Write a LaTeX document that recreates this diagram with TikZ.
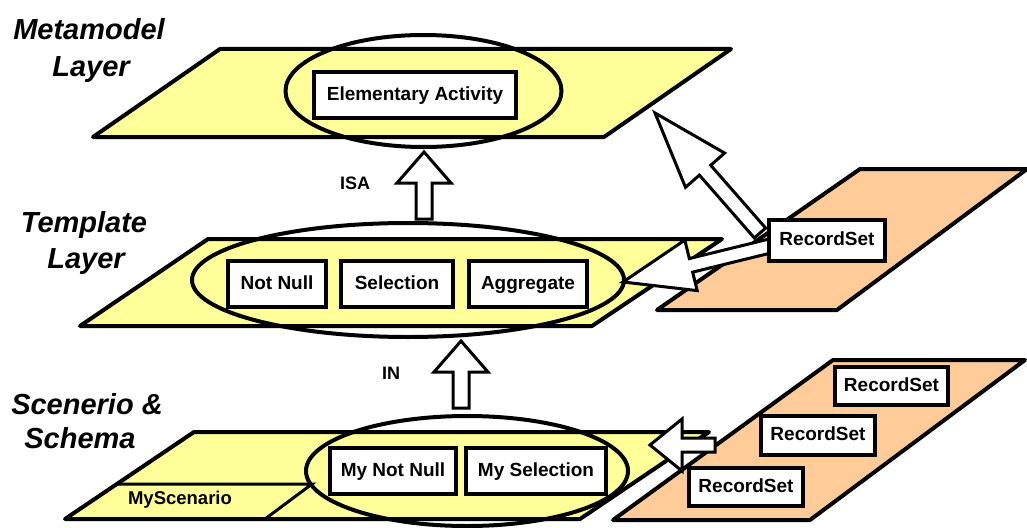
\documentclass[tikz,border=0pt]{standalone}
\usepackage{fontspec}
\setmainfont{Liberation Sans}
\usetikzlibrary{calc,shapes.geometric}

\definecolor{layeryellow}{RGB}{255,255,153}
\definecolor{sourceorange}{RGB}{255,204,153}

\tikzset{
  plane/.style={draw=black, line width=4pt, line join=round, fill=layeryellow},
  srcplane/.style={plane, fill=sourceorange},
  group/.style={draw=black, line width=4pt, ellipse, inner sep=0pt},
  box/.style={draw=black, fill=white, line width=4.5pt, inner sep=0pt,
    text height=14pt, text depth=4pt,
    font=\fontsize{19}{22}\selectfont\bfseries},
  layerlabel/.style={font=\fontsize{29}{34}\selectfont\bfseries\itshape,
    anchor=base, inner sep=0pt},
  reltext/.style={font=\fontsize{18}{20}\selectfont\bfseries, inner sep=0pt},
  blockarr/.style={draw=black, fill=white, line width=3pt, line join=miter},
}

% block arrow: #1 tail, #2 tip, #3 head length, #4 shaft half-width, #5 head half-width
\newcommand\blockarrow[5]{%
  \path ($(#2)!#3!(#1)$) coordinate (ba-base);
  \draw[blockarr] (#2)
    -- ($(ba-base)!#5!90:(#2)$) -- ($(ba-base)!#4!90:(#2)$)
    -- ($(#1)!#4!90:(#2)$) -- ($(#1)!#4!-90:(#2)$)
    -- ($(ba-base)!#4!-90:(#2)$) -- ($(ba-base)!#5!-90:(#2)$) -- cycle;
}

\begin{document}
\begin{tikzpicture}[x=1pt,y=-1pt]
\useasboundingbox (0,0) rectangle (1027,527);

% layer labels
\node[layerlabel] (metaA) at (89,40) {Metamodel};
\node[layerlabel] (metaB) at (91,76) {Layer};
\node[layerlabel] (tplA) at (84,232) {Template};
\node[layerlabel] (tplB) at (86,268) {Layer};
\node[layerlabel] (scnA) at (87,414) {Scenerio \&};
\node[layerlabel] (scnB) at (80,448) {Schema};

% yellow layer planes
\draw[plane] (93,137) -- (604,137) -- (731,49) -- (220,49) -- cycle;
\draw[plane] (80,326) -- (592,326) -- (722,239) -- (208,239) -- cycle;
\draw[plane] (65,519) -- (580,519) -- (709,432) -- (194,432) -- cycle;

% scenario strip on the lowest plane
\draw[line width=3pt] (116,484) -- (312,484) -- (265,519);
\node[font=\fontsize{18.5}{20}\selectfont\bfseries, inner sep=0pt] (myscn) at (180,500) {MyScenario};

% orange source planes
\draw[srcplane] (657,310) -- (837,310) -- (1027,169) -- (860,169) -- cycle;
\draw[srcplane] (613,520) -- (810,520) -- (1025,360) -- (833,360) -- cycle;

% grouping ellipses
\node[group, minimum width=276, minimum height=112] (metaEll) at (423.5,91) {};
\node[group, minimum width=432, minimum height=114] (tplEll) at (408,280) {};
\node[group, minimum width=322, minimum height=110] (scnEll) at (467,471) {};

% activity boxes
\node[box, minimum width=202, minimum height=46] (elem) at (415,95) {Elementary Activity};
\node[box, minimum width=98, minimum height=46] (notnull) at (277,284) {Not Null};
\node[box, minimum width=112, minimum height=46] (sel) at (397,284) {Selection};
\node[box, minimum width=118, minimum height=46] (agg) at (528,284) {Aggregate};
\node[box, minimum width=126, minimum height=46] (mynn) at (393,471) {My Not Null};
\node[box, minimum width=140, minimum height=46] (mysel) at (536,471) {My Selection};

% arrow end points
\coordinate (isaTail) at (424,219);
\coordinate (isaTip) at (424,152);
\coordinate (inTail) at (461,408);
\coordinate (inTip) at (461,341);
\coordinate (rsMetaTail) at (760,233);
\coordinate (rsMetaTip) at (655,113);
\coordinate (rsTplTail) at (770,246);
\coordinate (rsTplTip) at (623,282);
\coordinate (rsScnTail) at (715,445);
\coordinate (rsScnTip) at (650,445);

% block arrows
\blockarrow{isaTail}{isaTip}{31pt}{8pt}{27pt}
\blockarrow{inTail}{inTip}{31pt}{8pt}{27pt}
\blockarrow{rsMetaTail}{rsMetaTip}{76pt}{7.5pt}{26pt}
\blockarrow{rsTplTail}{rsTplTip}{70pt}{7pt}{26pt}
\blockarrow{rsScnTail}{rsScnTip}{32pt}{7pt}{26pt}

\node[reltext] (isa) at (355,183) {ISA};
\node[reltext] (in) at (391,373) {IN};

% record sets
\node[box, minimum width=116, minimum height=41] (rsMid) at (827,240.5) {RecordSet};
\node[box, minimum width=113, minimum height=38] (rsA) at (891.5,386) {RecordSet};
\node[box, minimum width=114, minimum height=39] (rsB) at (818,435.5) {RecordSet};
\node[box, minimum width=114, minimum height=38] (rsC) at (746,487) {RecordSet};
\end{tikzpicture}
\end{document}
